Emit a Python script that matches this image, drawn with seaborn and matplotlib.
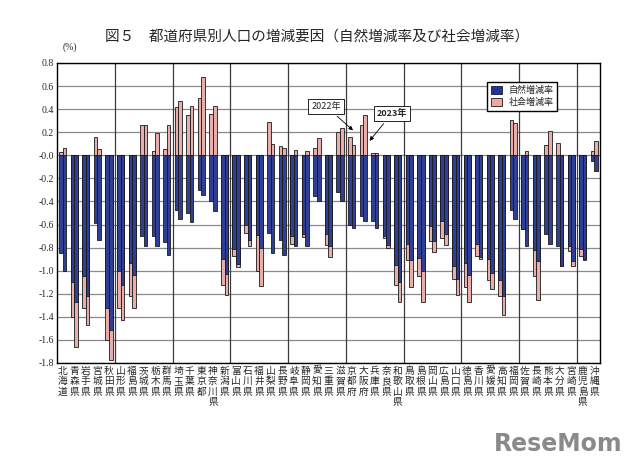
import numpy as np
import pandas as pd
import seaborn as sns
import matplotlib.pyplot as plt
from matplotlib.patches import Patch

prefs = ["北海道", "青森県", "岩手県", "宮城県", "秋田県", "山形県", "福島県", "茨城県",
         "栃木県", "群馬県", "埼玉県", "千葉県", "東京都", "神奈川県", "新潟県", "富山県",
         "石川県", "福井県", "山梨県", "長野県", "岐阜県", "静岡県", "愛知県", "三重県",
         "滋賀県", "京都府", "大阪府", "兵庫県", "奈良県", "和歌山県", "鳥取県", "島根県",
         "岡山県", "広島県", "山口県", "徳島県", "香川県", "愛媛県", "高知県", "福岡県",
         "佐賀県", "長崎県", "熊本県", "大分県", "宮崎県", "鹿児島県", "沖縄県"]

# 自然増減率 (%)
nat_2022 = [-0.85, -1.10, -1.05, -0.59, -1.32, -1.00, -0.93, -0.70, -0.70, -0.75,
            -0.47, -0.50, -0.30, -0.40, -0.90, -0.81, -0.60, -0.69, -0.67, -0.73,
            -0.70, -0.68, -0.35, -0.68, -0.32, -0.60, -0.53, -0.57, -0.70, -0.95,
            -0.77, -0.89, -0.61, -0.57, -0.96, -0.93, -0.77, -0.90, -1.08, -0.47,
            -0.64, -0.82, -0.68, -0.79, -0.79, -0.81, -0.05]
nat_2023 = [-1.00, -1.27, -1.22, -0.73, -1.51, -1.12, -1.04, -0.79, -0.79, -0.86,
            -0.55, -0.58, -0.34, -0.48, -1.03, -0.94, -0.73, -0.80, -0.85, -0.86,
            -0.79, -0.79, -0.40, -0.79, -0.40, -0.63, -0.57, -0.63, -0.78, -1.10,
            -0.91, -1.00, -0.74, -0.68, -1.07, -1.04, -0.88, -1.02, -1.22, -0.55,
            -0.79, -0.92, -0.77, -0.96, -0.92, -0.90, -0.14]

# 社会増減率 (%)
soc_2022 = [0.03, -0.30, -0.27, 0.16, -0.28, -0.32, -0.29, 0.26, 0.04, 0.055,
            0.42, 0.35, 0.50, 0.36, -0.22, -0.06, -0.07, -0.31, 0.29, 0.08,
            -0.07, -0.03, 0.06, -0.10, 0.20, 0.16, 0.26, 0.02, -0.015, -0.17,
            -0.135, -0.16, -0.13, -0.15, -0.11, -0.21, -0.10, -0.18, -0.14, 0.31,
            0.0, -0.23, 0.09, 0.105, -0.04, -0.06, 0.04]
soc_2023 = [0.06, -0.39, -0.25, 0.055, -0.26, -0.31, -0.28, 0.265, 0.19, 0.26,
            0.47, 0.43, 0.68, 0.43, -0.18, -0.03, -0.055, -0.33, 0.10, 0.065,
            0.05, 0.04, 0.15, -0.09, 0.235, 0.085, 0.345, 0.02, -0.02, -0.17,
            -0.23, -0.27, -0.10, -0.10, -0.14, -0.23, -0.02, -0.14, -0.16, 0.28,
            0.04, -0.33, 0.21, 0.0, -0.04, -0.01, 0.12]

years = ["2022", "2023"]
yticks = np.round(np.arange(-1.8, 0.81, 0.2), 1)

blue = "#1d33a6"
pink = "#f3a5a1"
edge = "#1a1a1a"

rows = []
for yr, nat, soc in [("2022", nat_2022, soc_2022), ("2023", nat_2023, soc_2023)]:
    for p, n, s in zip(prefs, nat, soc):
        rows.append({"pref": p, "year": yr, "natural": n, "social": s})
df = pd.DataFrame(rows)
# pink part goes up from 0 when positive, and on below the blue bar when negative
df["pink"] = np.where(df.social > 0, df.social, df.natural + df.social)

sns.set_theme(style="white")
plt.rcParams["font.family"] = ["Noto Sans CJK JP", "DejaVu Sans"]

fig, ax = plt.subplots(figsize=(6.4, 4.69), dpi=100)
fig.subplots_adjust(left=57/640, right=600/640, top=1-63/469, bottom=1-363/469)

sns.barplot(data=df, x="pref", y="pink", hue="year", order=prefs, hue_order=years,
            palette=[pink, pink], width=0.62, edgecolor=edge, linewidth=0.6,
            errorbar=None, legend=False, ax=ax, zorder=2)
sns.barplot(data=df, x="pref", y="natural", hue="year", order=prefs, hue_order=years,
            palette=[blue, blue], width=0.62, edgecolor=edge, linewidth=0.6,
            errorbar=None, legend=False, ax=ax, zorder=3)

ax.set_xlim(-0.5, len(prefs) - 0.5)
ax.set_ylim(-1.8, 0.8)
ax.set_yticks(yticks)
ax.set_yticklabels([f"{v:.1f}" for v in yticks], family="Liberation Serif", fontsize=7)
ax.yaxis.grid(True, color="#8a8a8a", lw=0.9)
for xv in np.arange(4.5, len(prefs) - 1, 5):
    ax.axvline(xv, color="#3a3a3a", lw=0.9, zorder=1)
ax.set_axisbelow(True)

ax.set_xticks(range(len(prefs)))
ax.set_xticklabels(["\n".join(p) for p in prefs], fontsize=7, linespacing=1.05, va="top")
ax.tick_params(axis="both", length=0, pad=2)
ax.set_xlabel("")
ax.set_ylabel("")
for s in ax.spines.values():
    s.set_color("black")
    s.set_linewidth(1.0)

ax.legend(handles=[Patch(fc=blue, ec=edge, lw=0.6, label="自然増減率"),
                   Patch(fc=pink, ec=edge, lw=0.6, label="社会増減率")],
          loc="upper left", bbox_to_anchor=(0.792, 0.937), borderaxespad=0,
          fancybox=False, edgecolor="black", framealpha=1, fontsize=6.5,
          handlelength=1.2, handleheight=1.0, labelspacing=0.4)

ax.annotate("2022年", xy=(25.3, 0.20), xytext=(22.8, 0.424), ha="center", va="center",
            fontsize=6.5, bbox=dict(boxstyle="square,pad=0.35", fc="white", ec="black", lw=0.6),
            arrowprops=dict(arrowstyle="-|>", color="black", lw=0.6, mutation_scale=6), zorder=5)
ax.annotate("2023年", xy=(26.4, 0.107), xytext=(28.5, 0.363), ha="center", va="center",
            fontsize=6.5, fontweight="bold",
            bbox=dict(boxstyle="square,pad=0.35", fc="white", ec="black", lw=0.6),
            arrowprops=dict(arrowstyle="-|>", color="black", lw=0.6, mutation_scale=6), zorder=5)

fig.text(317/640, 1-37/469, "図５　都道府県別人口の増減要因（自然増減率及び社会増減率）",
         ha="center", va="center", fontsize=10.5)
fig.text(70/640, 1-47/469, "(%)", ha="center", va="center", fontsize=7, family="Liberation Serif")
fig.text(622/640, 1-444/469, "ReseMom", ha="right", va="center", fontsize=17,
         fontweight="bold", color="#8a8a8a", family="DejaVu Sans")

fig.savefig("out.png", dpi=100)
